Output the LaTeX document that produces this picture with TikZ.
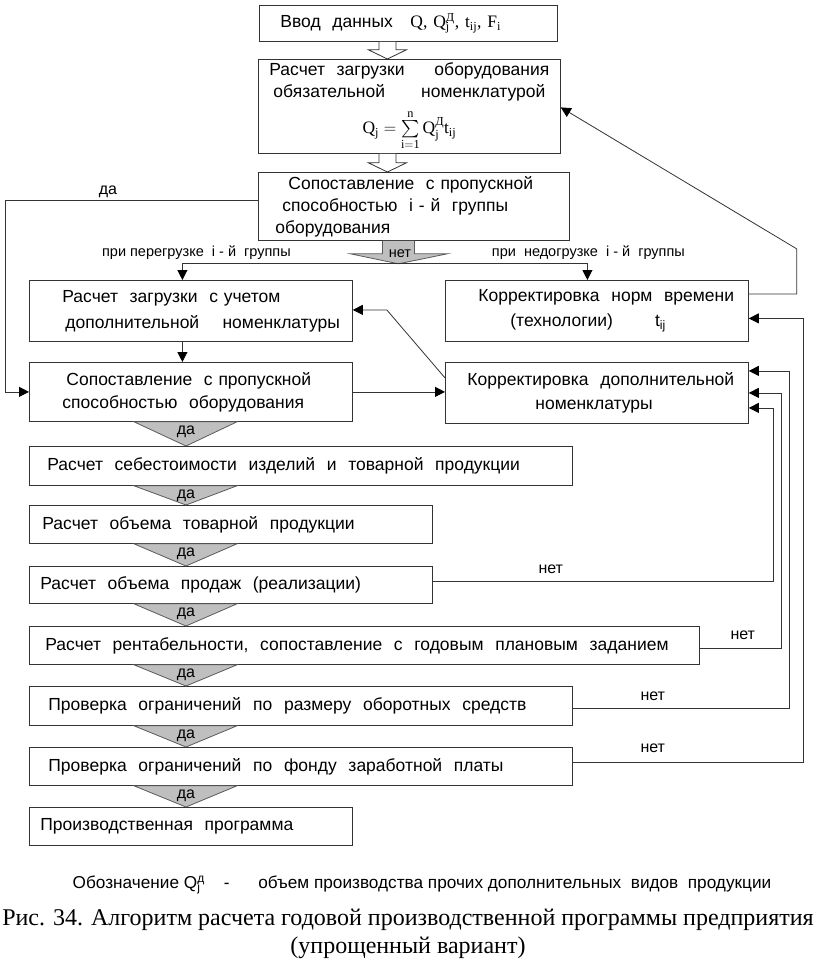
\documentclass[tikz,border=0pt]{standalone}
\usepackage{amsmath}
\usepackage{fontspec}
\setmainfont{Liberation Sans}
\newfontfamily\tnr{Liberation Serif}
\setmathrm{Liberation Serif}
\usetikzlibrary{arrows.meta,calc,positioning}
\definecolor{edge}{HTML}{333333}
\definecolor{gate}{HTML}{BFBFBF}
\definecolor{gateline}{HTML}{5A5A5A}
\newcommand{\boxfont}{\fontsize{17.5}{22}\selectfont}
\newcommand{\Qd}[2]{Q\rlap{\textsubscript{#2}}\textsuperscript{#1}}
\tikzset{
  box/.style={draw=edge, line width=0.8pt, rectangle, anchor=north west,
    inner xsep=0pt, inner ysep=2pt, align=left, font=\boxfont},
  arr/.style={draw=edge, line width=0.8pt, -{Triangle[length=10pt,width=10pt,black]}},
  link/.style={draw=edge, line width=0.8pt},
  openarr/.style={draw=edge, line width=0.8pt, fill=white},
  gatearr/.style={draw=gateline, line width=0.8pt, fill=gate},
  tag/.style={font=\fontsize{16}{18}\selectfont, inner sep=1pt},
  branch/.style={font=\fontsize{14.5}{16}\selectfont, inner sep=1pt}
}

\begin{document}
\begin{tikzpicture}[x=1pt,y=-1pt]
  \useasboundingbox (0,0) rectangle (816,967);

  % Input data
  \node[box, minimum width=298pt, text width=298pt, minimum height=36pt] (b1) at (259,5)
    {\hspace*{21pt}Ввод~ данных~ ~{\tnr Q, \Qd{Д}{j}, t\textsubscript{ij}, F\textsubscript{i}}};

  % Load of the mandatory range
  \node[box, minimum width=302pt, text width=302pt, minimum height=94pt, align=center,
        inner ysep=0pt] (b2) at (258,59)
    {\makebox[280pt][l]{Расчет~ загрузки\hfill оборудования}\\
     \makebox[272pt][l]{обязательной\hfill номенклатурой}\\[8pt]
     $\mathrm{Q_j=\sum\limits_{i=1}^{n}Q_j^{\text{\tnr Д}}t_{ij}}$};

  \draw[openarr] ($(b1.south)+(-29.5,0)$) |- ($(b1.south)+(-40,8)$) -- ($(b2.north)+(-22,0)$)
    -- ($(b1.south)+(-2,8)$) -| ($(b1.south)+(-12.5,0)$);

  % Capacity check of group i
  \node[box, minimum width=311pt, text width=311pt, minimum height=68pt] (b3) at (258,172)
    {\hspace*{30pt}Сопоставление~ с пропускной\\
     \hspace*{24pt}способностью~ i - й~ группы\\
     \hspace*{17pt}оборудования};

  \draw[openarr] ($(b2.south)+(-30.5,0)$) |- ($(b2.south)+(-41,9)$) -- ($(b3.north)+(-26.5,0)$)
    -- ($(b2.south)+(-3,9)$) -| ($(b2.south)+(-13.5,0)$);

  % Second row
  \node[box, minimum width=323pt, text width=323pt, minimum height=61pt,
        font=\fontsize{17.5}{26}\selectfont] (b4) at (29,280)
    {\hspace*{33pt}Расчет~ загрузки~ с учетом\\
     \hspace*{36pt}дополнительной~ ~ номенклатуры};
  \node[box, minimum width=303pt, text width=303pt, minimum height=61pt,
        font=\fontsize{17.5}{25}\selectfont] (b5) at (445,280)
    {\hspace*{33pt}Корректировка~ норм~ времени\\
     \hspace*{65pt}(технологии)\hspace{42pt}t\textsubscript{ij}};

  % "no" split
  \coordinate (nettip) at ($(b3.south)+(-15.5,23)$);
  \draw[gatearr] ($(b3.south)+(-31.5,0)$) |- ($(b3.south)+(-63.5,13)$) -- (nettip)
    -- ($(b3.south)+(33.5,13)$) -| ($(b3.south)+(0.5,0)$);
  \node[branch] (net0) at ($(b3.south)+(-14,13)$) {нет};
  \coordinate (brL) at ($(b4.north)+(-8.5,-17)$);
  \coordinate (brR) at ($(b5.north)+(-9.5,-17)$);
  \draw[link] (brL) -- (brR);
  \draw[arr] (brL) -- (brL |- b4.north);
  \draw[arr] (brR) -- (brR |- b5.north);
  \node[branch] (over) at ($(brL)+(14,-10)$) {при перегрузке~ i - й~ группы};
  \node[branch] (under) at ($(brR)+(1,-10)$) {при~ недогрузке~ i - й~ группы};

  % Third row
  \node[box, minimum width=323pt, text width=323pt, minimum height=59pt,
        font=\fontsize{17.5}{23}\selectfont] (b6) at (29,362)
    {\hspace*{37pt}Сопоставление~ с пропускной\\
     \hspace*{33pt}способностью~ оборудования};
  \node[box, minimum width=303pt, text width=303pt, minimum height=61pt,
        font=\fontsize{17.5}{24}\selectfont] (b7) at (445,362)
    {\hspace*{22pt}Корректировка~ дополнительной\\
     \hspace*{90pt}номенклатуры\\[-6pt]};

  % "yes" bypass
  \draw[arr] ($(b3.west)+(0,-6)$) -- ++(-253,0) |- (b6.west);
  \node[tag, above] (yes0) at ($(b3.west)+(-150,-8)$) {да};

  \draw[arr] ($(b4.south)+(-8.5,0)$) -- ($(b6.north)+(-8.5,0)$);
  \draw[arr] (b6.east) -- (b6.east -| b7.west);
  \draw[arr] ($(b7.west)+(0,-15)$) -- ($(b4.east)+(34,-1)$) -- ($(b4.east)+(0,-1)$);
  \draw[arr] ($(b5.east)+(0,-17)$) -- ++(48,0) -- ++(0,-45) -- ($(b2.east)+(0,1)$);

  % Main chain
  \node[box, minimum width=543pt, text width=543pt, minimum height=39pt] (b8) at (29,446)
    {\hspace*{18pt}Расчет~ себестоимости~ изделий~ и~ товарной~ продукции};
  \node[box, minimum width=403pt, text width=403pt, minimum height=38pt] (b9) at (29,505)
    {\hspace*{13pt}Расчет~ объема~ товарной~ продукции};
  \node[box, minimum width=403pt, text width=403pt, minimum height=37pt] (b10) at (29,566)
    {\hspace*{11pt}Расчет~ объема~ продаж~ (реализации)};
  \node[box, minimum width=670pt, text width=670pt, minimum height=38pt] (b11) at (29,626)
    {\hspace*{16pt}Расчет~ рентабельности,~ сопоставление~ с~ годовым~ плановым~ заданием};
  \node[box, minimum width=543pt, text width=543pt, minimum height=39pt] (b12) at (29,686)
    {\hspace*{19pt}Проверка~ ограничений~ по~ размеру~ оборотных~ средств};
  \node[box, minimum width=543pt, text width=543pt, minimum height=38pt] (b13) at (29,747)
    {\hspace*{19pt}Проверка~ ограничений~ по~ фонду~ заработной~ платы};
  \node[box, minimum width=323pt, text width=323pt, minimum height=38pt] (b14) at (29,807)
    {\hspace*{11pt}Производственная~ программа};

  \foreach \a/\b in {b6/b8,b8/b9,b9/b10,b10/b11,b11/b12,b12/b13,b13/b14} {
    \draw[gatearr] ($(\a.south west)+(105,0)$) -- ($(\a.south west)+(208,0)$)
      -- ($(\b.north west)+(157,0)$) -- cycle;
    \node[tag] (yes-\a) at ($(\a.south west)+(157,10)$) {да};
  }

  % Returns on "no"
  \draw[arr] ($(b10.east)+(0,-4)$) -| ($(b7.east)+(25,15)$) -- ($(b7.east)+(0,15)$);
  \draw[arr] ($(b11.east)+(0,3)$) -| ($(b7.east)+(33,0)$) -- (b7.east);
  \draw[arr] ($(b12.east)+(0,2.5)$) -| ($(b7.east)+(41,-22)$) -- ($(b7.east)+(0,-22)$);
  \draw[arr] ($(b13.east)+(0,-4)$) -| ($(b5.east)+(55,7.5)$) -- ($(b5.east)+(0,7.5)$);
  \node[tag] (no10) at ($(b10.east)+(118,-16)$) {нет};
  \node[tag] (no11) at ($(b11.east)+(43,-10)$) {нет};
  \node[tag] (no12) at ($(b12.east)+(80,-10)$) {нет};
  \node[tag] (no13) at ($(b13.east)+(80,-18)$) {нет};

  % Legend and caption
  \node[font=\fontsize{17.2}{19}\selectfont] (legend) at (422,885)
    {Обозначение \Qd{д}{j}~ ~ -~ ~ ~ объем производства прочих дополнительных~ видов~ продукции};
  \node[font=\tnr\fontsize{24}{28}\selectfont, align=center] (caption) at (408,934)
    {Рис. 34. Алгоритм расчета годовой производственной программы предприятия\\
     (упрощенный вариант)};
\end{tikzpicture}
\end{document}
